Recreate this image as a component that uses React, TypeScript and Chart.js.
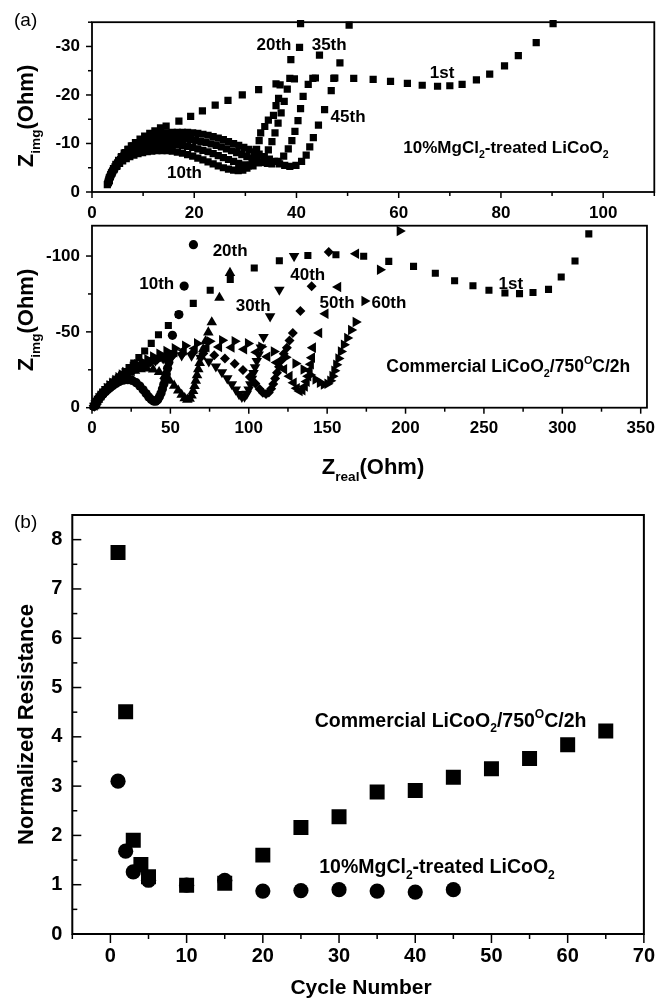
import React, { useEffect, useRef } from 'react';
import { Chart, registerables } from 'chart.js';
Chart.register(...registerables);

const W = 665;
const H = 998;
const FONT = '"Liberation Sans", Arial, Helvetica, sans-serif';

type P = [number, number];

// ---------- Panel (a) top: 10%MgCl2-treated LiCoO2 (Zreal, Zimg) ----------
const topCycle1: P[] = [
  [3.4, -2.4], [3.6, -3.2], [3.9, -4.0], [4.3, -4.8], [4.7, -5.6], [5.2, -6.4], [5.7, -7.2], [6.3, -8.0],
  [7.0, -8.8], [7.7, -9.5], [8.5, -10.2], [9.4, -10.9], [10.3, -11.5], [11.3, -12.1], [12.3, -12.6], [13.4, -13.2],
  [14.5, -13.6], [17.0, -14.6], [19.3, -15.6], [21.6, -16.7], [24.1, -17.9], [26.6, -18.9], [29.4, -20.0],
  [32.6, -21.1], [36.0, -22.3], [39.6, -23.3], [43.7, -23.5], [47.5, -23.5], [51.2, -23.4], [55.0, -23.2],
  [58.4, -22.8], [61.7, -22.4], [64.6, -22.0], [67.6, -21.8], [70.0, -21.9], [72.4, -22.2], [75.2, -23.1],
  [77.8, -24.3], [80.7, -26.0], [83.4, -28.1], [86.9, -30.8], [90.2, -34.7],
];
const topCycle10: P[] = [
  [3.0, -1.5], [3.2, -2.2], [3.4, -2.9], [3.7, -3.6], [4.0, -4.2], [4.4, -4.8], [4.9, -5.4], [5.4, -5.9],
  [6.0, -6.4], [6.7, -6.9], [7.4, -7.3], [8.2, -7.6], [9.0, -7.9], [9.9, -8.1], [10.8, -8.3], [11.7, -8.4],
  [12.7, -8.5], [13.7, -8.5], [14.7, -8.5], [15.7, -8.4], [16.7, -8.2], [17.7, -8.0], [18.7, -7.7], [19.7, -7.4],
  [20.7, -7.0], [21.7, -6.6], [22.7, -6.2], [23.7, -5.8], [24.7, -5.4], [25.7, -5.0], [26.7, -4.7], [27.7, -4.5],
  [28.6, -4.4], [29.5, -4.5], [30.3, -4.9], [31.0, -5.6], [31.7, -7.0], [32.2, -8.8], [32.7, -10.6], [33.0, -12.2],
  [33.8, -13.5], [34.5, -14.8], [35.5, -15.8], [36.0, -17.8], [36.5, -19.3], [36.8, -22.1],
];
const topCycle20: P[] = [
  [3.1, -1.8], [3.3, -2.5], [3.6, -3.2], [3.9, -3.9], [4.3, -4.6], [4.8, -5.3], [5.3, -6.0], [5.9, -6.6],
  [6.6, -7.2], [7.3, -7.7], [8.1, -8.2], [8.9, -8.7], [9.8, -9.0], [10.7, -9.3], [11.7, -9.6], [12.7, -9.7],
  [13.7, -9.8], [14.7, -9.8], [15.7, -9.8], [16.7, -9.7], [17.7, -9.6], [18.7, -9.4], [19.7, -9.2],
  [20.7, -8.9], [21.7, -8.6], [22.7, -8.3], [23.7, -7.9], [24.7, -7.5], [25.7, -7.1], [26.7, -6.7], [27.7, -6.3],
  [28.7, -5.9], [29.7, -5.6], [30.6, -5.4], [31.5, -5.4], [32.6, -6.0], [33.6, -7.2], [34.5, -8.7], [35.2, -10.4],
  [35.8, -12.2], [36.4, -14.2], [37.0, -16.3], [37.6, -18.7], [38.2, -21.2], [38.7, -23.4], [38.9, -27.3],
  [40.6, -29.8], [40.8, -34.7],
];
const topCycle35: P[] = [
  [3.2, -2.0], [3.4, -2.8], [3.7, -3.6], [4.1, -4.4], [4.5, -5.2], [5.0, -6.0], [5.6, -6.7], [6.2, -7.4],
  [6.9, -8.0], [7.7, -8.6], [8.5, -9.1], [9.4, -9.6], [10.3, -10.0], [11.3, -10.3], [12.3, -10.6], [13.3, -10.8],
  [14.3, -10.9], [15.3, -11.0], [16.3, -11.0], [17.3, -11.0], [18.3, -10.9], [19.3, -10.8], [20.3, -10.6],
  [21.3, -10.4], [22.3, -10.2], [23.3, -9.9], [24.3, -9.6], [25.3, -9.3], [26.3, -8.9], [27.3, -8.5],
  [28.3, -8.1], [29.3, -7.7], [30.3, -7.3], [31.3, -6.9], [32.3, -6.5], [33.3, -6.1], [34.3, -5.9], [35.2, -5.8],
  [36.4, -6.3], [37.5, -7.4], [38.4, -8.9], [39.1, -10.6], [39.7, -12.5], [40.3, -14.7], [40.8, -17.2],
  [41.3, -19.7], [42.3, -22.2], [43.2, -23.4], [44.5, -28.2], [50.3, -34.4],
];
const topCycle45: P[] = [
  [3.3, -2.2], [3.5, -3.0], [3.8, -3.9], [4.2, -4.8], [4.7, -5.7], [5.2, -6.5], [5.8, -7.3], [6.5, -8.1],
  [7.2, -8.8], [8.0, -9.5], [8.9, -10.1], [9.8, -10.7], [10.7, -11.2], [11.7, -11.6], [12.7, -11.9], [13.7, -12.1],
  [14.7, -12.2], [15.7, -12.3], [16.7, -12.3], [17.7, -12.3], [18.7, -12.3], [19.7, -12.2], [20.7, -12.1],
  [21.7, -11.9], [22.7, -11.7], [23.7, -11.4], [24.7, -11.1], [25.7, -10.8], [26.7, -10.4], [27.7, -10.0],
  [28.7, -9.6], [29.7, -9.2], [30.7, -8.8], [31.7, -8.3], [32.7, -7.8], [33.7, -7.3], [34.7, -6.8], [35.7, -6.3],
  [36.7, -5.8], [37.7, -5.5], [38.7, -5.3], [39.9, -5.5], [41.0, -6.3], [41.9, -7.6], [42.6, -9.3], [43.3, -11.2],
  [44.3, -13.8], [45.5, -17.0], [46.8, -20.9], [47.3, -23.4], [48.5, -26.6],
];

// ---------- Panel (a) middle: Commercial LiCoO2/750C/2h ----------
const midCycle1: P[] = [
  [1.0, -0.8], [1.6, -1.9], [2.3, -3.0], [3.1, -4.2], [4.0, -5.4], [5.0, -6.7], [6.1, -8.0], [7.3, -9.4],
  [8.6, -10.9], [10.0, -12.4], [11.5, -14.0], [13.1, -15.7], [14.8, -17.5], [16.7, -19.4], [18.8, -21.5],
  [21.1, -23.8], [23.7, -26.4], [26.6, -29.4], [29.9, -33.0], [33.6, -37.4], [37.8, -42.4], [42.4, -48.1],
  [48.7, -54.2], [55.3, -61.5], [64.6, -68.8], [75.4, -77.4], [88.2, -84.6], [103.5, -92.1], [119.5, -96.9],
  [137.7, -100.4], [155.6, -100.9], [173.3, -99.8], [189.3, -96.5], [205.1, -93.2], [219.0, -88.6],
  [231.3, -83.7], [243.0, -80.4], [253.2, -77.4], [263.4, -75.6], [272.7, -75.2], [281.3, -76.0],
  [291.2, -78.0], [299.3, -86.2], [308.1, -96.7], [316.9, -114.6],
];
const midCycle10: P[] = [
  [1.2, -0.8], [1.8, -2.0], [2.5, -3.3], [3.3, -4.6], [4.2, -5.9], [5.2, -7.2], [6.3, -8.5], [7.5, -9.8],
  [8.8, -11.0], [10.2, -12.2], [11.7, -13.4], [13.4, -14.7], [15.3, -16.0], [17.5, -17.2], [20.0, -18.1],
  [22.8, -18.5], [25.6, -18.0], [28.2, -16.5], [30.5, -14.3], [32.6, -11.8], [34.5, -9.3], [36.2, -7.1],
  [37.8, -5.4], [39.3, -4.4], [40.7, -4.3], [41.9, -5.3], [43.0, -7.2], [44.0, -9.6], [44.9, -12.4], [45.8, -15.5],
  [46.6, -18.8], [47.4, -22.3], [48.2, -26.0], [49.0, -30.0], [49.9, -35.0], [51.3, -47.7], [55.4, -61.4],
  [58.8, -80.2], [64.7, -107.5],
];
const midCycle20: P[] = [
  [1.4, -1.0], [2.1, -2.4], [2.9, -3.9], [3.8, -5.4], [4.8, -6.9], [5.9, -8.4], [7.1, -9.9], [8.4, -11.4],
  [9.8, -12.9], [11.3, -14.3], [12.9, -15.7], [14.7, -17.2], [16.7, -18.7], [18.9, -20.2], [21.4, -21.7],
  [24.2, -23.1], [27.4, -24.4], [31.0, -25.4], [35.0, -25.8], [39.0, -25.2], [42.8, -23.5], [46.3, -20.9],
  [49.5, -17.8], [52.4, -14.5], [55.0, -11.3], [57.2, -8.5], [59.1, -6.3], [60.8, -5.3], [62.3, -6.0], [63.5, -8.1],
  [64.5, -11.0], [65.4, -14.3], [66.2, -17.8], [67.0, -21.5], [67.8, -25.4], [68.7, -29.5], [69.7, -33.8],
  [70.9, -38.5], [72.4, -43.8], [74.2, -49.6], [76.4, -56.3], [81.3, -72.5], [88.0, -88.9],
];
const midCycle30: P[] = [
  [1.5, -1.2], [2.3, -2.7], [3.2, -4.3], [4.2, -5.9], [5.3, -7.5], [6.5, -9.1], [7.8, -10.7], [9.2, -12.3],
  [10.7, -13.9], [12.3, -15.5], [14.0, -17.0], [15.9, -18.5], [18.0, -20.0], [20.3, -21.6], [22.8, -23.2],
  [25.6, -24.8], [28.7, -26.4], [32.2, -28.0], [36.1, -29.6], [40.5, -31.1], [45.4, -32.5], [51.0, -33.7],
  [57.2, -34.5], [63.5, -34.3], [69.3, -32.9], [74.5, -30.5], [79.0, -27.2], [82.9, -23.4], [86.3, -19.4],
  [89.2, -15.5], [91.7, -11.9], [93.8, -9.0], [95.6, -7.2], [97.3, -7.3], [98.7, -9.1], [99.9, -12.0],
  [101.0, -15.4], [102.0, -19.0], [103.0, -22.8], [104.0, -26.7], [105.1, -30.8], [106.3, -35.0], [107.7, -39.6],
  [109.4, -46.6], [113.6, -60.2], [119.5, -77.8], [128.9, -100.0],
];
const midCycle40: P[] = [
  [1.6, -1.3], [2.4, -2.9], [3.4, -4.6], [4.5, -6.3], [5.7, -8.0], [7.0, -9.7], [8.4, -11.4], [9.9, -13.0],
  [11.5, -14.6], [13.2, -16.2], [15.0, -17.7], [17.0, -19.2], [19.2, -20.7], [21.6, -22.2], [24.2, -23.7],
  [27.0, -25.2], [30.1, -26.8], [33.5, -28.4], [37.3, -30.0], [41.5, -31.6], [46.2, -33.1], [51.5, -34.4],
  [57.5, -35.4], [64.0, -35.9], [71.0, -35.7], [78.0, -34.6], [84.8, -32.4], [91.0, -29.0], [96.3, -24.8],
  [100.7, -20.3], [104.2, -16.0], [106.9, -12.4], [109.0, -9.9], [111.0, -9.0], [112.8, -10.0], [114.3, -12.5],
  [115.6, -15.7], [116.8, -19.2], [118.0, -23.0], [119.3, -27.0], [120.7, -31.2], [122.3, -35.5], [124.3, -39.6],
  [126.0, -44.3], [128.1, -49.2], [132.9, -63.7], [140.1, -80.0], [151.0, -102.6],
];
const midCycle50: P[] = [
  [1.7, -1.4], [2.6, -3.1], [3.6, -4.9], [4.8, -6.7], [6.1, -8.5], [7.5, -10.3], [9.0, -12.1], [10.6, -13.8],
  [12.3, -15.5], [14.1, -17.2], [16.0, -18.8], [18.0, -20.4], [20.2, -22.0], [22.6, -23.6], [25.2, -25.2],
  [28.0, -26.8], [31.1, -28.4], [34.5, -30.0], [38.3, -31.7], [42.5, -33.3], [47.2, -34.9], [52.5, -36.5],
  [58.5, -37.9], [65.5, -39.0], [73.0, -39.8], [81.0, -40.1], [89.0, -39.7], [97.0, -38.5], [104.8, -36.5],
  [111.8, -33.6], [117.8, -29.8], [122.5, -25.4], [126.0, -20.8], [128.6, -16.4], [130.6, -12.8], [132.4, -11.0],
  [134.2, -11.6], [135.7, -14.0], [136.9, -17.2], [137.9, -20.8], [138.8, -24.6], [139.6, -28.6], [140.3, -33.0],
  [140.9, -39.6], [144.9, -49.2], [148.9, -62.0], [157.0, -79.6], [168.4, -101.5],
];
const midCycle60: P[] = [
  [1.8, -1.5], [2.8, -3.3], [3.9, -5.2], [5.1, -7.1], [6.4, -9.0], [7.9, -10.9], [9.5, -12.8], [11.2, -14.7],
  [13.0, -16.5], [14.9, -18.3], [16.9, -20.1], [19.0, -21.8], [21.2, -23.5], [23.5, -25.2], [26.0, -26.9],
  [28.8, -28.6], [31.9, -30.3], [35.3, -32.0], [39.0, -33.8], [43.0, -35.6], [47.5, -37.4], [52.8, -39.1],
  [59.4, -40.8], [67.0, -42.4], [75.0, -43.8], [83.0, -44.4], [91.0, -43.8], [99.5, -42.4], [108.0, -40.2],
  [116.0, -37.0], [123.5, -33.2], [129.8, -29.2], [135.0, -25.2], [139.2, -21.6], [142.6, -18.6], [145.4, -16.4],
  [147.9, -15.3], [150.2, -15.8], [152.0, -17.8], [153.4, -20.8], [154.6, -24.4], [155.8, -28.3], [157.2, -32.5],
  [158.8, -37.0], [160.7, -41.5], [162.8, -46.0], [165.3, -51.2], [168.2, -56.5], [173.8, -70.3], [183.7, -91.0],
  [196.3, -116.5],
];

// ---------- Panel (b): normalized resistance vs cycle number ----------
const cyclesCommercial = [1, 2, 3, 4, 5, 10, 15, 20, 25, 30, 35, 40, 45, 50, 55, 60, 65];
const resistanceCommercial = [7.74, 4.51, 1.9, 1.41, 1.16, 0.99, 1.03, 1.6, 2.16, 2.38, 2.88, 2.91, 3.18, 3.35, 3.56, 3.84, 4.12];
const cyclesMg = [1, 2, 3, 5, 10, 15, 20, 25, 30, 35, 40, 45];
const resistanceMg = [3.1, 1.68, 1.26, 1.09, 0.99, 1.09, 0.87, 0.88, 0.9, 0.87, 0.85, 0.9];

type Seg = { t: string; s?: 'sub' | 'sup' };
type Label = { segs: Seg[]; x: number; y: number; size: number; align: 'left' | 'center' };

const LI_COO2: Seg[] = [{ t: 'LiCoO' }, { t: '2', s: 'sub' }];
const MG_LABEL: Seg[] = [{ t: '10%MgCl' }, { t: '2', s: 'sub' }, { t: '-treated ' }, ...LI_COO2];
const COMM_LABEL: Seg[] = [{ t: 'Commercial ' }, ...LI_COO2, { t: '/750' }, { t: 'O', s: 'sup' }, { t: 'C/2h' }];

const topLabels: Label[] = [
  { segs: [{ t: '20th' }], x: 35.6, y: -30.6, size: 17, align: 'center' },
  { segs: [{ t: '35th' }], x: 46.4, y: -30.6, size: 17, align: 'center' },
  { segs: [{ t: '1st' }], x: 68.5, y: -24.7, size: 17, align: 'center' },
  { segs: [{ t: '45th' }], x: 50.1, y: -15.7, size: 17, align: 'center' },
  { segs: [{ t: '10th' }], x: 18.1, y: -4.2, size: 17, align: 'center' },
  { segs: MG_LABEL, x: 60.9, y: -9.4, size: 17, align: 'left' },
];
const midLabels: Label[] = [
  { segs: [{ t: '20th' }], x: 88.1, y: -103.9, size: 17, align: 'center' },
  { segs: [{ t: '10th' }], x: 41.3, y: -82.5, size: 17, align: 'center' },
  { segs: [{ t: '40th' }], x: 137.6, y: -88.2, size: 17, align: 'center' },
  { segs: [{ t: '30th' }], x: 102.8, y: -67.9, size: 17, align: 'center' },
  { segs: [{ t: '50th' }], x: 156.3, y: -69.9, size: 17, align: 'center' },
  { segs: [{ t: '60th' }], x: 189.4, y: -69.9, size: 17, align: 'center' },
  { segs: [{ t: '1st' }], x: 267.2, y: -82.5, size: 17, align: 'center' },
  { segs: COMM_LABEL, x: 187.7, y: -28, size: 17.5, align: 'left' },
];
const botLabels: Label[] = [
  { segs: COMM_LABEL, x: 26.8, y: 4.35, size: 19.5, align: 'left' },
  { segs: MG_LABEL, x: 27.4, y: 1.37, size: 19.5, align: 'left' },
];

type Title = { segs: Seg[]; x: number; y: number; size: number; rotate: boolean; weight: string; align: 'left' | 'center' };

function drawRich(ctx: CanvasRenderingContext2D, segs: Seg[], x: number, y: number, size: number,
  align: 'left' | 'center', rotate: boolean, weight: string) {
  ctx.save();
  ctx.translate(x, y);
  if (rotate) ctx.rotate(-Math.PI / 2);
  const parts = segs.map((s) => {
    const fs = s.s ? size * 0.62 : size;
    ctx.font = `${weight} ${fs}px ${FONT}`;
    return { s, fs, w: ctx.measureText(s.t).width };
  });
  const total = parts.reduce((a, p) => a + p.w, 0);
  let cx = align === 'center' ? -total / 2 : 0;
  const base = size * 0.36;
  ctx.fillStyle = '#000';
  ctx.textAlign = 'left';
  ctx.textBaseline = 'alphabetic';
  for (const p of parts) {
    ctx.font = `${weight} ${p.fs}px ${FONT}`;
    const dy = p.s.s === 'sub' ? size * 0.3 : p.s.s === 'sup' ? -size * 0.42 : 0;
    ctx.fillText(p.s.t, cx, base + dy);
    cx += p.w;
  }
  ctx.restore();
}

type PanelCfg = {
  datasets: any[];
  padding: { left: number; right: number; top: number; bottom: number };
  yWidth: number;
  x: { min: number; max: number; major: number; minor: number; dir: 'out' | 'in'; pad: number };
  y: { min: number; max: number; major: number; minor: number; dir: 'out' | 'in'; pad: number; reverse: boolean };
  tickFont: number;
  majorLen: number;
  minorLen: number;
  frame: number;
  labels: Label[];
  titles: Title[];
};

function makeDecor(cfg: PanelCfg) {
  return {
    id: 'decor',
    afterDraw(chart: any) {
      const { ctx, chartArea: a, scales } = chart;
      const xs = scales.x;
      const ys = scales.y;
      ctx.save();
      ctx.strokeStyle = '#000';
      ctx.lineWidth = cfg.frame;
      ctx.strokeRect(a.left, a.top, a.right - a.left, a.bottom - a.top);
      ctx.lineWidth = 1.5;
      const isMajor = (v: number, m: number) => Math.abs(v / m - Math.round(v / m)) < 1e-6;
      for (let n = Math.ceil(cfg.x.min / cfg.x.minor - 1e-9); n * cfg.x.minor <= cfg.x.max + 1e-9; n++) {
        const v = n * cfg.x.minor;
        const len = isMajor(v, cfg.x.major) ? cfg.majorLen : cfg.minorLen;
        const px = xs.getPixelForValue(v);
        ctx.beginPath();
        ctx.moveTo(px, a.bottom);
        ctx.lineTo(px, cfg.x.dir === 'out' ? a.bottom + len : a.bottom - len);
        ctx.stroke();
      }
      for (let n = Math.ceil(cfg.y.min / cfg.y.minor - 1e-9); n * cfg.y.minor <= cfg.y.max + 1e-9; n++) {
        const v = n * cfg.y.minor;
        const len = isMajor(v, cfg.y.major) ? cfg.majorLen : cfg.minorLen;
        const py = ys.getPixelForValue(v);
        ctx.beginPath();
        ctx.moveTo(a.left, py);
        ctx.lineTo(cfg.y.dir === 'out' ? a.left - len : a.left + len, py);
        ctx.stroke();
      }
      for (const l of cfg.labels) {
        drawRich(ctx, l.segs, xs.getPixelForValue(l.x), ys.getPixelForValue(l.y), l.size, l.align, false, 'bold');
      }
      for (const t of cfg.titles) {
        drawRich(ctx, t.segs, t.x, t.y, t.size, t.align, t.rotate, t.weight);
      }
      ctx.restore();
    },
  };
}

function ds(data: { x: number; y: number }[], style: string, radius: number, rotation = 0) {
  return {
    data,
    pointStyle: style,
    pointRadius: radius,
    pointHoverRadius: radius,
    pointRotation: rotation,
    pointBackgroundColor: '#000',
    pointBorderColor: '#000',
    pointBorderWidth: 0,
    showLine: false,
    clip: 4,
  };
}

const toXY = (arr: P[]) => arr.map(([x, y]) => ({ x, y }));
const zip = (xs: number[], ys: number[]) => xs.map((x, i) => ({ x, y: ys[i] }));

function makeChart(canvas: HTMLCanvasElement, cfg: PanelCfg) {
  const tickFont = { family: FONT, size: cfg.tickFont, weight: 'bold' as const };
  return new Chart(canvas, {
    type: 'scatter',
    data: { datasets: cfg.datasets },
    options: {
      responsive: false,
      animation: false,
      events: [],
      layout: { padding: cfg.padding, autoPadding: false } as any,
      plugins: { legend: { display: false }, tooltip: { enabled: false }, title: { display: false } },
      scales: {
        x: {
          type: 'linear',
          position: 'bottom',
          min: cfg.x.min,
          max: cfg.x.max,
          grid: { display: false, drawTicks: false },
          border: { display: false },
          ticks: {
            stepSize: cfg.x.major,
            includeBounds: false,
            autoSkip: false,
            maxRotation: 0,
            color: '#000',
            font: tickFont,
            padding: cfg.x.pad,
          },
          afterFit: (s: any) => { s.height = 30; },
        },
        y: {
          type: 'linear',
          position: 'left',
          min: cfg.y.min,
          max: cfg.y.max,
          reverse: cfg.y.reverse,
          grid: { display: false, drawTicks: false },
          border: { display: false },
          ticks: {
            stepSize: cfg.y.major,
            includeBounds: false,
            autoSkip: false,
            color: '#000',
            font: tickFont,
            padding: cfg.y.pad,
          },
          afterFit: (s: any) => { s.width = cfg.yWidth; },
        },
      },
    } as any,
    plugins: [makeDecor(cfg)],
  });
}

const Z_IMG: Seg[] = [{ t: 'Z' }, { t: 'img', s: 'sub' }, { t: '(Ohm)' }];
const Z_REAL: Seg[] = [{ t: 'Z' }, { t: 'real', s: 'sub' }, { t: '(Ohm)' }];

const topCfg: PanelCfg = {
  datasets: [
    ds(toXY(topCycle1), 'rect', 5.1),
    ds(toXY(topCycle10), 'rect', 5.1),
    ds(toXY(topCycle20), 'rect', 5.1),
    ds(toXY(topCycle35), 'rect', 5.1),
    ds(toXY(topCycle45), 'rect', 5.1),
  ],
  padding: { left: 0, right: 10.7, top: 10, bottom: H - 192 - 30 },
  yWidth: 92,
  x: { min: 0, max: 110, major: 20, minor: 10, dir: 'out', pad: 11 },
  y: { min: -35, max: 0, major: 10, minor: 5, dir: 'out', pad: 12, reverse: true },
  tickFont: 17,
  majorLen: 6,
  minorLen: 4,
  frame: 1.8,
  labels: topLabels,
  titles: [
    { segs: [{ t: '(a)' }], x: 14, y: 19, size: 19, rotate: false, weight: 'normal', align: 'left' },
    { segs: Z_IMG, x: 25, y: 116, size: 22, rotate: true, weight: 'bold', align: 'center' },
  ],
};

const midCfg: PanelCfg = {
  datasets: [
    ds(toXY(midCycle1), 'rect', 5.0),
    ds(toXY(midCycle10), 'circle', 4.6),
    ds(toXY(midCycle20), 'triangle', 6.1),
    ds(toXY(midCycle30), 'triangle', 6.1, 180),
    ds(toXY(midCycle40), 'rectRot', 5.0),
    ds(toXY(midCycle50), 'triangle', 6.1, 270),
    ds(toXY(midCycle60), 'triangle', 6.1, 90),
  ],
  padding: { left: 0, right: 10.7, top: 225.7, bottom: H - 407.7 - 30 },
  yWidth: 92,
  x: { min: 0, max: 354, major: 50, minor: 25, dir: 'out', pad: 10 },
  y: { min: -120, max: 0, major: 50, minor: 25, dir: 'out', pad: 12, reverse: true },
  tickFont: 17,
  majorLen: 6,
  minorLen: 4,
  frame: 1.8,
  labels: midLabels,
  titles: [
    { segs: Z_IMG, x: 25, y: 320, size: 22, rotate: true, weight: 'bold', align: 'center' },
    { segs: Z_REAL, x: 373, y: 466, size: 22, rotate: false, weight: 'bold', align: 'center' },
  ],
};

const botCfg: PanelCfg = {
  datasets: [
    ds(zip(cyclesCommercial, resistanceCommercial), 'rect', 10.6),
    ds(zip(cyclesMg, resistanceMg), 'circle', 7.6),
  ],
  padding: { left: 0, right: W - 646.7, top: 515, bottom: H - 934 - 30 },
  yWidth: 72.3,
  x: { min: -5, max: 70, major: 10, minor: 5, dir: 'out', pad: 10 },
  y: { min: 0, max: 8.5, major: 1, minor: 0.5, dir: 'in', pad: 10, reverse: false },
  tickFont: 20,
  majorLen: 9,
  minorLen: 5,
  frame: 2,
  labels: botLabels,
  titles: [
    { segs: [{ t: '(b)' }], x: 14, y: 521, size: 19, rotate: false, weight: 'normal', align: 'left' },
    { segs: [{ t: 'Normalized Resistance' }], x: 25, y: 724.5, size: 22, rotate: true, weight: 'bold', align: 'center' },
    { segs: [{ t: 'Cycle Number' }], x: 361, y: 986.5, size: 21, rotate: false, weight: 'bold', align: 'center' },
  ],
};

export default function App() {
  const r1 = useRef<HTMLCanvasElement>(null);
  const r2 = useRef<HTMLCanvasElement>(null);
  const r3 = useRef<HTMLCanvasElement>(null);
  useEffect(() => {
    const charts = [
      makeChart(r1.current!, topCfg),
      makeChart(r2.current!, midCfg),
      makeChart(r3.current!, botCfg),
    ];
    return () => charts.forEach((c) => c.destroy());
  }, []);
  const cs: React.CSSProperties = { position: 'absolute', left: 0, top: 0, width: W, height: H };
  return (
    <div style={{ position: 'absolute', left: 0, top: 0, width: W, height: H, background: '#fff', overflow: 'hidden' }}>
      <canvas ref={r1} width={W} height={H} style={cs} />
      <canvas ref={r2} width={W} height={H} style={cs} />
      <canvas ref={r3} width={W} height={H} style={cs} />
    </div>
  );
}
